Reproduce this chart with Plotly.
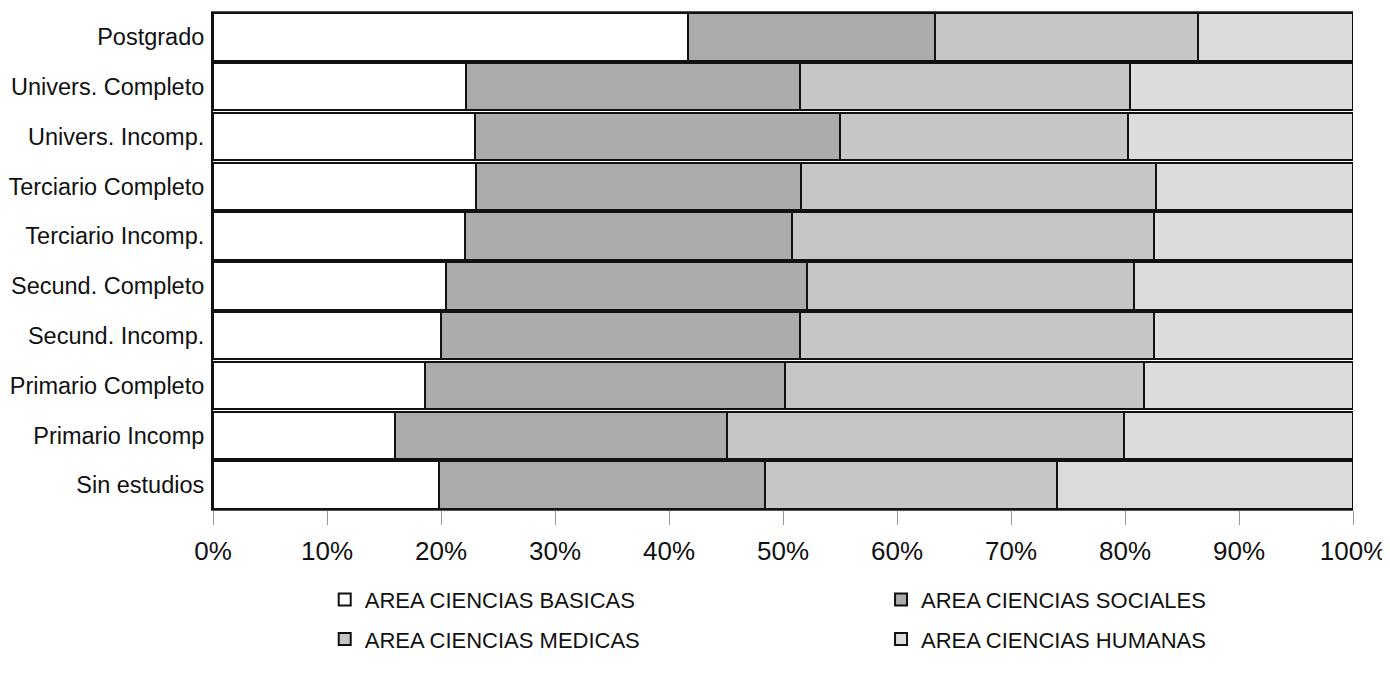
import plotly.graph_objects as go

categories = ["Sin estudios", "Primario Incomp", "Primario Completo", "Secund. Incomp.",
              "Secund. Completo", "Terciario Incomp.", "Terciario Completo",
              "Univers. Incomp.", "Univers. Completo", "Postgrado"]

basicas = [19.8, 16.0, 18.6, 20.0, 20.4, 22.1, 23.1, 23.0, 22.2, 41.7]
sociales = [28.6, 29.1, 31.6, 31.5, 31.7, 28.7, 28.5, 32.0, 29.3, 21.6]
medicas = [25.6, 34.8, 31.5, 31.0, 28.7, 31.7, 31.1, 25.3, 28.9, 23.1]
humanas = [26.0, 20.1, 18.3, 17.5, 19.2, 17.5, 17.3, 19.7, 19.6, 13.6]

series_names = ["AREA CIENCIAS BASICAS", "AREA CIENCIAS SOCIALES",
                "AREA CIENCIAS MEDICAS", "AREA CIENCIAS HUMANAS"]
series_values = [basicas, sociales, medicas, humanas]
colors = ["#ffffff", "#ababab", "#c6c6c6", "#dcdcdc"]
legend_ids = ["legend", "legend2", "legend", "legend2"]

tick_vals = [0, 10, 20, 30, 40, 50, 60, 70, 80, 90, 100]
tick_text = [f"{v}%" for v in tick_vals]

fig = go.Figure()
for name, vals, col, lg in zip(series_names, series_values, colors, legend_ids):
    fig.add_trace(go.Bar(
        y=categories, x=vals, name=name, orientation="h",
        legend=lg, legendgroup=name,
        marker=dict(color=col, line=dict(color="#111111", width=2)),
    ))

legend_common = dict(orientation="v", yanchor="top", xanchor="left",
                     traceorder="grouped", tracegroupgap=8,
                     font=dict(size=22, color="#111111"),
                     bgcolor="rgba(0,0,0,0)", itemwidth=30)

fig.update_layout(
    barmode="stack",
    bargap=0.05,
    width=1382, height=672,
    margin=dict(l=205, r=37, t=4, b=170, autoexpand=False),
    paper_bgcolor="white", plot_bgcolor="white",
    font=dict(family="Liberation Sans, Arial, sans-serif", color="#111111"),
    xaxis=dict(range=[0, 100], tickvals=tick_vals, ticktext=tick_text,
               showgrid=False, zeroline=False, automargin=False,
               ticks="outside", ticklen=14, tickcolor="#999999", tickwidth=1,
               tickfont=dict(size=26, color="#111111"),
               ticklabelstandoff=4,
               showline=True, linecolor="#555555", linewidth=1, mirror=True),
    yaxis=dict(showgrid=False, zeroline=False, automargin=False,
               tickfont=dict(size=23.5, color="#111111"),
               ticks="", showline=True, linecolor="#111111", linewidth=2,
               ticklabelstandoff=2),
    legend=dict(x=0.098, y=-0.138, **legend_common),
    legend2=dict(x=0.586, y=-0.138, **legend_common),
    showlegend=True,
)

fig.write_html("out.html")
